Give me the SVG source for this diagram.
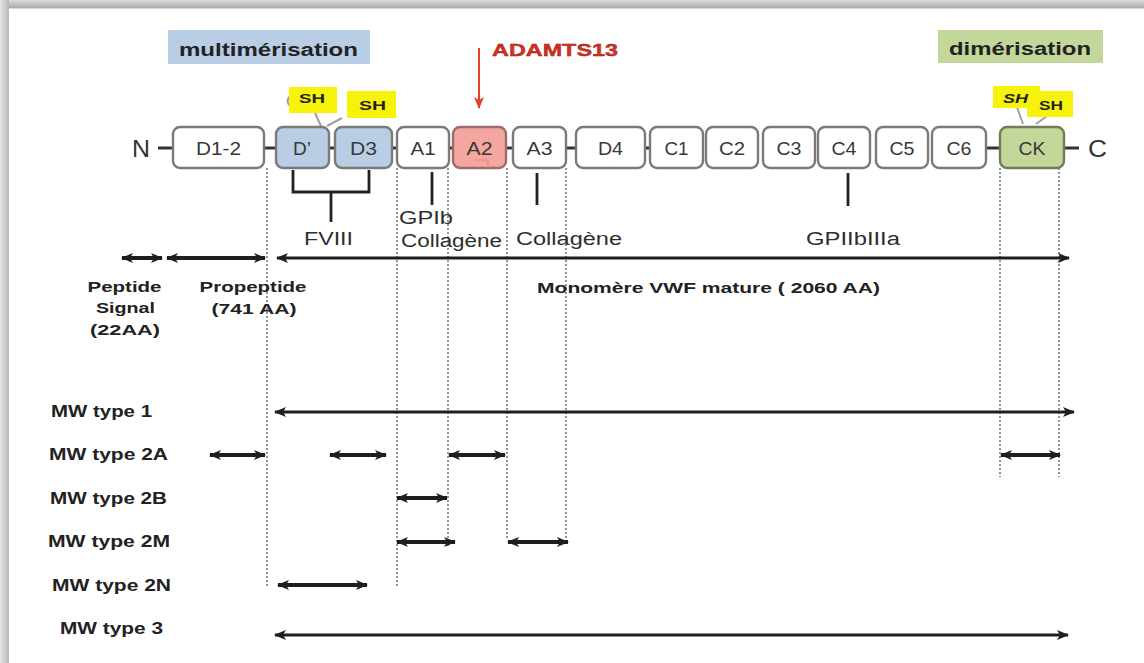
<svg xmlns="http://www.w3.org/2000/svg" width="1144" height="663" viewBox="0 0 1144 663">
<defs>
<style>
text{font-family:"Liberation Sans",Arial,sans-serif}
.box{fill:#fff;stroke:#7a7a7a;stroke-width:2.4}
.blue{fill:#b9cde5}
.red{fill:#f4a6a1;stroke:#9c6b6b}
.green{fill:#c4d79b;stroke:#6f7d58}
.bt{font-size:17.5px;fill:#383838;text-anchor:middle}
.lbl{font-size:18px;fill:#2e2e2e}
.bold{font-weight:bold;fill:#222}
.mw{font-size:17px;font-weight:bold;fill:#222}
.sh{fill:#f7f20a}
.sht{font-size:13px;font-weight:bold;fill:#222}
.dash{stroke:#333;stroke-width:3}
.dot{stroke:#707070;stroke-width:1.5;stroke-dasharray:2 2;fill:none}
.tick{stroke:#222;stroke-width:2.8;fill:none}
.arr{stroke:#1e1e1e;stroke-width:3.8;fill:none;marker-start:url(#ah);marker-end:url(#ah)}
.arrL{stroke:#1e1e1e;stroke-width:3.2;fill:none;marker-start:url(#ah);marker-end:url(#ah)}
.shl{stroke:#a0a0a0;stroke-width:2;fill:none}
</style>
<marker id="ah" markerUnits="userSpaceOnUse" viewBox="0 0 12 10" markerWidth="12" markerHeight="10" refX="11" refY="5" orient="auto-start-reverse">
<path d="M0,0 L12,5 L0,10 L3,5 z" fill="#1e1e1e"/>
</marker>
<marker id="rh" markerUnits="userSpaceOnUse" viewBox="0 0 12 10" markerWidth="12" markerHeight="10" refX="11" refY="5" orient="auto">
<path d="M0,0 L12,5 L0,10 L3,5 z" fill="#e5402c"/>
</marker>
<linearGradient id="topg" x1="0" y1="0" x2="0" y2="1">
<stop offset="0" stop-color="#dcdcdc"/><stop offset="1" stop-color="#aaaaaa"/>
</linearGradient>
<linearGradient id="leftg" x1="0" y1="0" x2="1" y2="0">
<stop offset="0" stop-color="#e6e6e6"/><stop offset="1" stop-color="#b8b8b8"/>
</linearGradient>
</defs>

<g id="frame">
<rect x="0" y="0" width="1144" height="663" fill="#fff"/>
<rect x="0" y="0" width="1144" height="8" fill="url(#topg)"/>
<rect x="0" y="0" width="9" height="663" fill="url(#leftg)"/>
<line x1="9" y1="8.5" x2="1144" y2="8.5" stroke="#e8d8c0" stroke-width="1"/>
</g>

<g id="header-labels">
<g id="multimerisation">
<rect x="168" y="30" width="202" height="34" class="blue"/>
<text x="179" y="56" class="bold" font-size="18" textLength="179" lengthAdjust="spacingAndGlyphs">multimérisation</text>
</g>
<g id="dimerisation">
<rect x="938" y="30" width="165" height="33" fill="#c4d79b"/>
<text x="949" y="55" class="bold" font-size="18" textLength="142" lengthAdjust="spacingAndGlyphs">dimérisation</text>
</g>
<g id="adamts13">
<text x="492" y="56" font-size="17" font-weight="bold" fill="#d8321f" stroke="#8a1a10" stroke-width="0.4" textLength="126" lengthAdjust="spacingAndGlyphs">ADAMTS13</text>
<line x1="479" y1="48" x2="479" y2="108" stroke="#e5402c" stroke-width="2" marker-end="url(#rh)"/>
</g>
</g>

<g id="chain-ends">
<text x="132" y="157" font-size="24" fill="#333" textLength="18" lengthAdjust="spacingAndGlyphs">N</text>
<text x="1088" y="157" font-size="24" fill="#333" textLength="19" lengthAdjust="spacingAndGlyphs">C</text>
</g>

<g id="links">
<line x1="158" y1="148" x2="173" y2="148" class="dash"/>
<line x1="264" y1="148" x2="276" y2="148" class="dash"/>
<line x1="329" y1="148" x2="335" y2="148" class="dash"/>
<line x1="392" y1="148" x2="397" y2="148" class="dash"/>
<line x1="449" y1="148" x2="453" y2="148" class="dash"/>
<line x1="506" y1="148" x2="513" y2="148" class="dash"/>
<line x1="566" y1="148" x2="576" y2="148" class="dash"/>
<line x1="645" y1="148" x2="650" y2="148" class="dash"/>
<line x1="986" y1="148" x2="1000" y2="148" class="dash"/>
<line x1="1064" y1="148" x2="1079" y2="148" class="dash"/>
</g>

<g id="sh-links">
<path d="M290,96 Q285,101 290,106" class="shl"/>
<line x1="315" y1="113" x2="321" y2="126" class="shl"/>
<line x1="342" y1="118" x2="327" y2="126" class="shl"/>
<line x1="1017" y1="107" x2="1023" y2="124" class="shl"/>
<line x1="1047" y1="116" x2="1036" y2="124" class="shl"/>
</g>

<g id="box-D1-2"><rect x="173" y="127" width="91" height="41" rx="7" class="box"/><text x="218.5" y="155" class="bt" textLength="45" lengthAdjust="spacingAndGlyphs">D1-2</text></g>
<g id="box-Dprime"><rect x="276" y="127" width="53" height="41" rx="7" class="box blue"/><text x="302" y="155" class="bt" textLength="18" lengthAdjust="spacingAndGlyphs">D’</text></g>
<g id="box-D3"><rect x="335" y="127" width="57" height="41" rx="7" class="box blue"/><text x="363.5" y="155" class="bt" textLength="27" lengthAdjust="spacingAndGlyphs">D3</text></g>
<g id="box-A1"><rect x="397" y="127" width="52" height="41" rx="7" class="box"/><text x="423" y="155" class="bt" textLength="25" lengthAdjust="spacingAndGlyphs">A1</text></g>
<g id="box-A2"><rect x="453" y="127" width="53" height="41" rx="7" class="box red"/><text x="479.5" y="155" class="bt" textLength="26" lengthAdjust="spacingAndGlyphs">A2</text><path d="M475,160 L488,160 L488,170" stroke="#f08a50" stroke-width="1.2" fill="none" opacity="0.8"/></g>
<g id="box-A3"><rect x="513" y="127" width="53" height="41" rx="7" class="box"/><text x="539.5" y="155" class="bt" textLength="26" lengthAdjust="spacingAndGlyphs">A3</text></g>
<g id="box-D4"><rect x="576" y="127" width="69" height="41" rx="7" class="box"/><text x="610.5" y="155" class="bt" textLength="25" lengthAdjust="spacingAndGlyphs">D4</text></g>
<g id="box-C1"><rect x="650" y="127" width="53" height="41" rx="7" class="box"/><text x="676.5" y="155" class="bt" textLength="24" lengthAdjust="spacingAndGlyphs">C1</text></g>
<g id="box-C2"><rect x="706" y="127" width="52" height="41" rx="7" class="box"/><text x="732" y="155" class="bt" textLength="26" lengthAdjust="spacingAndGlyphs">C2</text></g>
<g id="box-C3"><rect x="763" y="127" width="52" height="41" rx="7" class="box"/><text x="789" y="155" class="bt" textLength="25" lengthAdjust="spacingAndGlyphs">C3</text></g>
<g id="box-C4"><rect x="818" y="127" width="52" height="41" rx="7" class="box"/><text x="844" y="155" class="bt" textLength="25" lengthAdjust="spacingAndGlyphs">C4</text></g>
<g id="box-C5"><rect x="876" y="127" width="52" height="41" rx="7" class="box"/><text x="902" y="155" class="bt" textLength="25" lengthAdjust="spacingAndGlyphs">C5</text></g>
<g id="box-C6"><rect x="932" y="127" width="54" height="41" rx="7" class="box"/><text x="959" y="155" class="bt" textLength="25" lengthAdjust="spacingAndGlyphs">C6</text></g>
<g id="box-CK"><rect x="1000" y="127" width="64" height="41" rx="7" class="box green"/><text x="1032" y="155" class="bt" textLength="27" lengthAdjust="spacingAndGlyphs">CK</text></g>

<g id="sh-tags">
<g id="sh1"><rect x="289" y="87" width="48" height="26" class="sh"/><text x="299" y="103" class="sht" textLength="26" lengthAdjust="spacingAndGlyphs">SH</text></g>
<g id="sh2"><rect x="347" y="91" width="49" height="27" class="sh"/><text x="359" y="110" class="sht" textLength="27" lengthAdjust="spacingAndGlyphs">SH</text></g>
<g id="sh3"><rect x="993" y="86" width="47" height="22" class="sh"/></g>
<g id="sh4"><rect x="1027" y="91" width="46" height="26" class="sh"/><text x="1039" y="110" class="sht" textLength="24" lengthAdjust="spacingAndGlyphs">SH</text></g>
<text x="1003" y="103" class="sht" font-style="italic" textLength="25" lengthAdjust="spacingAndGlyphs">SH</text>
</g>

<g id="guides">
<line x1="267" y1="168" x2="267" y2="588" class="dot"/>
<line x1="397" y1="168" x2="397" y2="586" class="dot"/>
<line x1="448" y1="168" x2="448" y2="546" class="dot"/>
<line x1="507" y1="168" x2="507" y2="540" class="dot"/>
<line x1="566" y1="168" x2="566" y2="540" class="dot"/>
<line x1="1000" y1="168" x2="1000" y2="477" class="dot"/>
<line x1="1059" y1="168" x2="1059" y2="477" class="dot"/>
</g>

<g id="binding-sites">
<path d="M293,170 V192 H369 V170 M331,192 V222" class="tick"/>
<line x1="432" y1="172" x2="432" y2="205" class="tick"/>
<line x1="537" y1="173" x2="537" y2="205" class="tick"/>
<line x1="848" y1="173" x2="848" y2="206" class="tick"/>
<text x="304" y="245" class="lbl" textLength="49" lengthAdjust="spacingAndGlyphs">FVIII</text>
<text x="399" y="224" class="lbl" textLength="54" lengthAdjust="spacingAndGlyphs">GPIb</text>
<text x="401" y="247" class="lbl" textLength="101" lengthAdjust="spacingAndGlyphs">Collagène</text>
<text x="516" y="245" class="lbl" textLength="106" lengthAdjust="spacingAndGlyphs">Collagène</text>
<text x="806" y="245" class="lbl" textLength="94" lengthAdjust="spacingAndGlyphs">GPIIbIIIa</text>
</g>

<g id="connectors">
<line x1="122" y1="258" x2="162" y2="258" class="arr"/>
<line x1="167" y1="258" x2="265" y2="258" class="arr"/>
<line x1="277" y1="258" x2="1069" y2="258" class="arrL"/>
<line x1="275" y1="412" x2="1074" y2="412" class="arrL"/>
<line x1="210" y1="455" x2="265" y2="455" class="arr"/>
<line x1="330" y1="455" x2="386" y2="455" class="arr"/>
<line x1="449" y1="455" x2="505" y2="455" class="arr"/>
<line x1="1001" y1="455" x2="1060" y2="455" class="arr"/>
<line x1="397" y1="498" x2="447" y2="498" class="arr"/>
<line x1="397" y1="542" x2="455" y2="542" class="arr"/>
<line x1="508" y1="542" x2="568" y2="542" class="arr"/>
<line x1="278" y1="585" x2="367" y2="585" class="arr"/>
<line x1="275" y1="635" x2="1068" y2="635" class="arrL"/>
</g>

<g id="segment-labels" font-size="15.5" font-weight="bold" fill="#222" text-anchor="middle">
<text x="124.5" y="292" textLength="74" lengthAdjust="spacingAndGlyphs">Peptide</text>
<text x="125.5" y="313" textLength="59" lengthAdjust="spacingAndGlyphs">Signal</text>
<text x="125" y="335" textLength="70" lengthAdjust="spacingAndGlyphs">(22AA)</text>
<text x="253" y="292" textLength="107" lengthAdjust="spacingAndGlyphs">Propeptide</text>
<text x="254" y="314" textLength="85" lengthAdjust="spacingAndGlyphs">(741 AA)</text>
<text x="708.5" y="293" textLength="343" lengthAdjust="spacingAndGlyphs">Monomère VWF mature ( 2060 AA)</text>
</g>

<g id="mw-labels">
<text x="51" y="417" class="mw" textLength="101" lengthAdjust="spacingAndGlyphs">MW type 1</text>
<text x="49" y="460" class="mw" textLength="119" lengthAdjust="spacingAndGlyphs">MW type 2A</text>
<text x="50" y="504" class="mw" textLength="117" lengthAdjust="spacingAndGlyphs">MW type 2B</text>
<text x="48" y="547" class="mw" textLength="122" lengthAdjust="spacingAndGlyphs">MW type 2M</text>
<text x="52" y="591" class="mw" textLength="119" lengthAdjust="spacingAndGlyphs">MW type 2N</text>
<text x="60" y="634" class="mw" textLength="103" lengthAdjust="spacingAndGlyphs">MW type 3</text>
</g>
</svg>
